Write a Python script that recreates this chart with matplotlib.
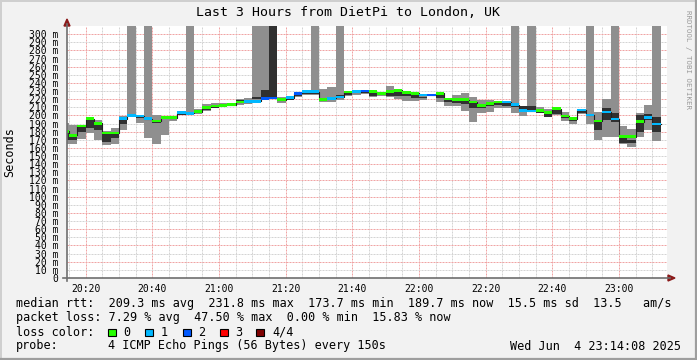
import numpy as np
import matplotlib
matplotlib.use("Agg")
import matplotlib.pyplot as plt
from matplotlib.patches import Polygon, Rectangle
from matplotlib.lines import Line2D

plt.rcParams['font.family'] = 'DejaVu Sans Mono'

W, H = 697, 360

# one value per 150 s step, first step starts 20:12:30 (x in minutes after 20:00)
t0, dt = 12.5, 2.5
median = [180.5, 175.6, 187, 196, 190.4, 178.5, 178.5, 196, 200, 199.4, 196, 193, 197.8, 197,
          203.5, 202.5, 204.7, 210, 211.7, 212.5, 213.4, 216.6, 217, 217.5, 221, 221.5, 219.5, 222,
          227, 229, 229, 220, 221, 222.6, 228.7, 229.3, 230, 229, 227, 229.7, 231, 228, 227.3, 225,
          225, 227, 220.3, 219.7, 219.5, 216.6, 212.5, 215, 216.6, 216.6, 213, 206.4, 205.5, 206,
          204, 208.4, 199.2, 196, 206.8, 200.6, 193.2, 204.3, 195.7, 173.9, 174, 192.4, 197.8, 189.5]
smoke_lo = [165, 165, 171, 178, 170, 163.7, 165, 182, 198.6, 190.4, 172, 165, 176, 193.7,
            200.2, 201, 202, 206, 208.8, 210, 211.7, 213, 214.2, 215, 220, 220, 215, 218.7,
            223, 225, 224.8, 217, 217, 219, 224, 225, 226.5, 222.4, 224.5, 222.4, 220.3, 218, 218, 219,
            224, 217, 212, 212, 206, 192.4, 203.5, 204.7, 209, 209, 203.5, 199.4, 204, 202.7,
            198.5, 200.6, 193.6, 189.5, 201.8, 189.5, 169.8, 173, 173, 165, 161.6, 173, 182, 169]
smoke_hi = [190.4, 188.3, 188.5, 197, 194.5, 181.4, 184, 199.4, 420, 201, 420, 200.6, 199.4, 199.4,
            205.6, 420, 207.6, 214.2, 215.8, 215, 215.8, 220, 221, 420, 420, 420, 222.4, 224,
            229, 231, 420, 232.6, 235.5, 420, 229.5, 230, 231, 230, 228.5, 236.3, 232.6, 229, 228.5, 226.5,
            226, 228, 221.5, 225, 227.3, 222.4, 219, 219, 218, 218, 420, 212, 420, 210,
            207.6, 209.6, 204.7, 197, 208, 420, 204.7, 220.3, 420, 187, 183.4, 202.7, 213, 420]
dark_lo = [170, 170, 179, 184, 182, 167, 172, 190, 199, 197, 195, 191, 196, 196,
           200.5, 201, 203, 207, 209, 212, 212, 217, 216, 220, 222, 222, 218, 219,
           223.5, 226, 226, 218, 219, 223, 225, 227, 227, 224, 225, 224, 224, 224, 222, 221,
           224, 222, 216, 215, 214, 209, 209, 211, 213, 212, 210, 208, 206.5, 203,
           198.5, 202, 197, 193, 203, 199, 182, 194.5, 192.4, 166.5, 166.5, 180, 194.5, 180]
dark_hi = [180, 174, 186, 194.5, 189, 177, 178, 195, 201, 199, 197, 193, 198, 197,
           202, 202, 204, 209, 210.5, 214, 213, 219, 217, 223, 231, 420, 219, 221,
           225.5, 228, 228, 219.5, 221, 225, 227.5, 229, 229, 227, 227, 228, 229, 226.5, 225, 223,
           225, 225, 219, 218, 218, 215, 212, 213, 215.5, 215.5, 212, 211, 211, 205,
           203, 207, 198.5, 195, 205.5, 200, 192, 208.8, 203.5, 173, 169.5, 200.6, 201.8, 198.5]
loss = [0, 0, 0, 0, 0, 0, 0, 1, 1, 1, 1, 0, 0, 0,
        1, 1, 0, 0, 0, 0, 0, 0, 1, 1, 2, 2, 0, 1,
        2, 1, 1, 0, 1, 1, 0, 1, 2, 0, 0, 0, 0, 0, 0, 1,
        2, 0, 0, 0, 0, 0, 0, 0, 0, 1, 1, 1, 1, 0,
        0, 0, 0, 0, 1, 1, 0, 1, 1, 0, 0, 0, 1, 1]

loss_colors = ['#26ff00', '#00b8ff', '#0059ff', '#ff0000', '#7e0000']
loss_names = ['0', '1', '2', '3', '4/4']
xtick_pos = [20, 40, 60, 80, 100, 120, 140, 160, 180]
xtick_labels = ['20:20', '20:40', '21:00', '21:20', '21:40', '22:00', '22:20', '22:40', '23:00']
ytick_pos = list(range(0, 310, 10))
ytick_labels = ['0'] + ['%d m' % v for v in ytick_pos[1:]]

legend_lines = [
    'median rtt:  209.3 ms avg  231.8 ms max  173.7 ms min  189.7 ms now  15.5 ms sd  13.5   am/s',
    'packet loss: 7.29 % avg  47.50 % max  0.00 % min  15.83 % now',
]
probe_text = '4 ICMP Echo Pings (56 Bytes) every 150s'
stamp_text = 'Wed Jun  4 23:14:08 2025'


def fx(x):
    return x / W


def fy(y):
    return 1 - y / H


fig = plt.figure(figsize=(W / 100, H / 100), dpi=100, facecolor='#f2f2f2')
ax = fig.add_axes([fx(67), fy(278), fx(600), 252 / H])
ax.set_facecolor('white')

starts = t0 + dt * np.arange(len(median))
med = np.array(median)
lo, hi = np.array(smoke_lo), np.array(smoke_hi)
dlo, dhi = np.array(dark_lo), np.array(dark_hi)

# grid
for m in range(15, 195, 5):
    major = m % 20 == 0
    ax.axvline(m, color='#f0a4a4' if major else '#d4d4d4', lw=0.72,
               ls=(0, (2, 1)), zorder=0)
for v in range(10, 310, 10):
    major = v % 20 == 0
    ax.axhline(v, color='#f0a4a4' if major else '#d4d4d4', lw=0.72,
               ls=(0, (2, 1)), zorder=0)

# smoke
ax.bar(starts, hi - lo, bottom=lo, width=dt, align='edge', color='#8f8f8f',
       linewidth=0, antialiased=False, zorder=2)
ax.bar(starts, dhi - dlo, bottom=dlo, width=dt, align='edge', color='#303030',
       linewidth=0, antialiased=False, zorder=3)

# median
ax.step(np.append(starts, starts[-1] + dt), np.append(med, med[-1]), where='post',
        color='#202020', lw=0.8, zorder=4)
hw = 1.7
ax.bar(starts, 2 * hw, bottom=med - hw, width=dt, align='edge',
       color=[loss_colors[l] for l in loss], linewidth=0, antialiased=False, zorder=5)

ax.set_xlim(14.4, 194.4)
ax.set_ylim(0, 310)
ax.set_xticks(xtick_pos)
ax.set_xticklabels(xtick_labels)
ax.set_yticks(ytick_pos)
ax.set_yticklabels(ytick_labels)
ax.tick_params(axis='both', length=0, labelsize=7.0, colors='#000000')
ax.tick_params(axis='y', pad=6)
ax.tick_params(axis='x', pad=4)
for s in ax.spines.values():
    s.set_visible(False)

# axes lines and arrows
fig.add_artist(Line2D([fx(67), fx(67)], [fy(281), fy(24)], color='#6e6e6e', lw=1.2))
fig.add_artist(Line2D([fx(63), fx(670)], [fy(278), fy(278)], color='#6e6e6e', lw=1.2))
fig.add_artist(Polygon([[fx(64), fy(26)], [fx(70), fy(26)], [fx(67), fy(19)]],
                       closed=True, color='#8b1a1a', transform=fig.transFigure))
fig.add_artist(Polygon([[fx(668), fy(275)], [fx(668), fy(281)], [fx(675), fy(278)]],
                       closed=True, color='#8b1a1a', transform=fig.transFigure))

# texts
fig.text(fx(348.5), fy(12.5), 'Last 3 Hours from DietPi to London, UK', ha='center', va='center',
         fontsize=9.5)
fig.text(fx(10), fy(152), 'Seconds', rotation=90, ha='center', va='center', fontsize=8.5)
fig.text(fx(688), fy(60), 'RRDTOOL / TOBI OETIKER', rotation=270, ha='center', va='center',
         fontsize=5.3, color='#9a9a9a')

fig.text(fx(16), fy(304), legend_lines[0], ha='left', va='center', fontsize=8.5)
fig.text(fx(16), fy(318), legend_lines[1], ha='left', va='center', fontsize=8.5)
fig.text(fx(16), fy(332), 'loss color:', ha='left', va='center', fontsize=8.5)
box_x = [108, 145.3, 182.7, 219.6, 256.4]
for bx, c, name in zip(box_x, loss_colors, loss_names):
    fig.add_artist(Rectangle((fx(bx), fy(336)), fx(8), 7.5 / H, facecolor=c,
                             edgecolor='black', lw=0.8, transform=fig.transFigure))
    fig.text(fx(bx + 15.5), fy(332), name, ha='left', va='center', fontsize=8.5)
fig.text(fx(16), fy(346), 'probe:', ha='left', va='center', fontsize=8.5)
fig.text(fx(107.5), fy(346), probe_text, ha='left', va='center', fontsize=8.5)
fig.text(fx(681), fy(346), stamp_text, ha='right', va='center', fontsize=8.5)

# 3D frame
fig.add_artist(Line2D([0, 1], [fy(0.5), fy(0.5)], color='#cfcfcf', lw=1.4))
fig.add_artist(Line2D([fx(0.5), fx(0.5)], [0, 1], color='#cfcfcf', lw=1.4))
fig.add_artist(Line2D([0, 1], [fy(359), fy(359)], color='#9e9e9e', lw=1.6))
fig.add_artist(Line2D([fx(696), fx(696)], [0, 1], color='#9e9e9e', lw=1.6))

fig.savefig('out.png', dpi=100, facecolor=fig.get_facecolor())
